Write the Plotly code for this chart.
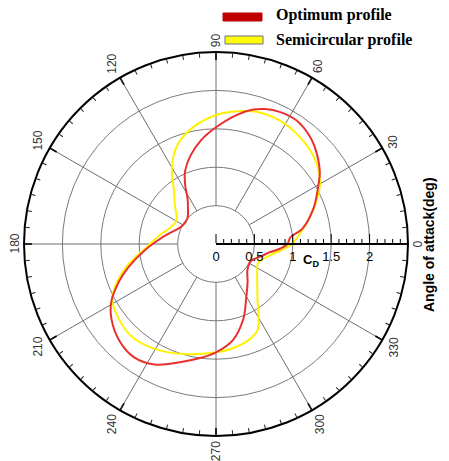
import numpy as np
import plotly.graph_objects as go

# Drag coefficient vs angle of attack (deg)
opt_theta = [0, 5, 10, 20, 30, 35, 45, 50, 57, 64, 70, 75, 81, 90, 98, 106, 113, 117.5,
             122, 129, 138, 152, 166, 174, 185, 195, 201, 209, 216, 225, 234, 243, 253,
             262, 270, 280, 290, 299, 310, 319, 331, 337, 344, 351, 356, 360]
opt_cd = [0.93, 0.97, 1.14, 1.35, 1.54, 1.65, 1.81, 1.87, 1.92, 1.91, 1.87, 1.81, 1.70,
          1.52, 1.37, 1.20, 1.03, 0.87, 0.70, 0.58, 0.50, 0.50, 0.61, 0.72, 0.93, 1.185,
          1.35, 1.56, 1.68, 1.78, 1.82, 1.76, 1.61, 1.50, 1.41, 1.27, 1.04, 0.81, 0.64,
          0.54, 0.50, 0.52, 0.60, 0.70, 0.84, 0.93]

semi_theta = [0, 7, 13, 23, 31, 41, 52, 63, 73, 81, 90, 101, 111, 120, 128, 137, 149,
              160, 170, 184, 193, 201, 208, 218, 228, 240, 254, 270, 278, 289, 296, 302,
              306, 311, 320, 330, 336, 342, 350, 356, 360]
semi_cd = [0.99, 1.10, 1.21, 1.42, 1.58, 1.70, 1.77, 1.81, 1.80, 1.75, 1.68, 1.55, 1.39,
           1.15, 0.89, 0.73, 0.60, 0.63, 0.73, 0.93, 1.17, 1.38, 1.53, 1.60, 1.63, 1.58,
           1.49, 1.41, 1.38, 1.32, 1.24, 1.04, 0.92, 0.82, 0.70, 0.62, 0.60, 0.64, 0.75,
           0.89, 0.99]

angle_labels = [0, 30, 60, 90, 120, 150, 180, 210, 240, 270, 300, 330]
cd_labels = [0, 0.5, 1, 1.5, 2]
R_MAX = 2.5
R_SPOKE_START = 0.5

# figure geometry (pixels)
W, H = 449, 461
ML, MR, MT, MB = 24, 41, 52, 25
PW, PH = W - ML - MR, H - MT - MB
CX, CY = ML + PW / 2, MT + PH / 2
R_PX = min(PW, PH) / 2
PX_PER_UNIT = R_PX / R_MAX


def to_paper(x, y):
    """Convert pixel position (from top-left of the figure) to paper coords."""
    return (x - ML) / PW, 1 - (y - MT) / PH


fig = go.Figure()

# spokes every 30 deg, starting at the inner ring
for a in angle_labels[1:]:
    fig.add_trace(go.Scatterpolar(r=[R_SPOKE_START, R_MAX], theta=[a, a], mode="lines",
                                  line=dict(color="#6e6e6e", width=1),
                                  hoverinfo="skip", showlegend=False))
# major ticks on the outer ring, darker where each spoke meets it
major_len = 8 / PX_PER_UNIT
for a in angle_labels:
    fig.add_trace(go.Scatterpolar(r=[R_MAX - major_len, R_MAX], theta=[a, a], mode="lines",
                                  line=dict(color="black", width=1.6),
                                  hoverinfo="skip", showlegend=False))

# minor ticks on the radial axis (every 0.1), pointing up
h = 5 / PX_PER_UNIT
for k in range(1, 25):
    r0 = k / 10
    if k % 5 == 0:
        continue
    fig.add_trace(go.Scatterpolar(r=[r0, np.hypot(r0, h)],
                                  theta=[0, np.degrees(np.arctan2(h, r0))],
                                  mode="lines", line=dict(color="black", width=1),
                                  hoverinfo="skip", showlegend=False))

fig.add_trace(go.Scatterpolar(r=semi_cd, theta=semi_theta, mode="lines",
                              line=dict(color="#fff200", width=2, shape="spline"),
                              name="Semicircular profile", showlegend=False))
fig.add_trace(go.Scatterpolar(r=opt_cd, theta=opt_theta, mode="lines",
                              line=dict(color="#e8312f", width=2, shape="spline"),
                              name="Optimum profile", showlegend=False))

fig.update_layout(
    width=W, height=H,
    margin=dict(l=ML, r=MR, t=MT, b=MB),
    paper_bgcolor="white", plot_bgcolor="white",
    showlegend=False,
    polar=dict(
        bgcolor="white",
        domain=dict(x=[0, 1], y=[0, 1]),
        radialaxis=dict(
            range=[0, R_MAX], tickvals=cd_labels, ticktext=[str(v) for v in cd_labels],
            angle=0, side="clockwise", ticks="inside", ticklen=9, tickwidth=1,
            tickcolor="black", showline=True, linecolor="black", linewidth=2,
            showgrid=True, gridcolor="#7a7a7a", gridwidth=1,
            tickfont=dict(family="Liberation Sans, Arial", size=13, color="black"),
        ),
        angularaxis=dict(
            direction="counterclockwise", rotation=0,
            tickmode="linear", tick0=0, dtick=5,
            ticks="inside", ticklen=4, tickcolor="#222222", tickwidth=1,
            showline=True, linecolor="black", linewidth=2,
            showgrid=False, showticklabels=False,
        ),
    ),
)

# angle labels, rotated to read along the vertical
for a in angle_labels:
    txt = str(a)
    long_half = len(txt) * 3.4
    short_half = 4.5
    t = np.radians(a)
    d = R_PX + 5 + abs(np.cos(t)) * short_half + abs(np.sin(t)) * long_half
    x, y = to_paper(CX + d * np.cos(t), CY - d * np.sin(t))
    fig.add_annotation(xref="paper", yref="paper", x=x, y=y, xanchor="center",
                       yanchor="middle", showarrow=False, textangle=-90, text=txt,
                       font=dict(family="Liberation Sans, Arial", size=12, color="#333333"))

# legend swatches and labels
x0, y0 = to_paper(223, 21)
x1, y1 = to_paper(262, 13)
fig.add_shape(type="rect", xref="paper", yref="paper", x0=x0, x1=x1, y0=y0, y1=y1,
              fillcolor="#c00000", line=dict(color="#c00000", width=1), layer="above")
x0, y0 = to_paper(225, 44)
x1, y1 = to_paper(263, 36)
fig.add_shape(type="rect", xref="paper", yref="paper", x0=x0, x1=x1, y0=y0, y1=y1,
              fillcolor="#ffff00", line=dict(color="#6a6a8a", width=1), layer="above")
for label, ypx in [("Optimum profile", 15), ("Semicircular profile", 40)]:
    x, y = to_paper(274, ypx)
    fig.add_annotation(xref="paper", yref="paper", x=x, y=y,
                       xanchor="left", yanchor="middle", showarrow=False,
                       text="<b>" + label + "</b>",
                       font=dict(family="Liberation Serif, Times New Roman", size=16,
                                 color="black"))

x, y = to_paper(301, 260)
fig.add_annotation(xref="paper", yref="paper", x=x, y=y,
                   xanchor="left", yanchor="middle", showarrow=False,
                   text="<b>C<sub>D</sub></b>",
                   font=dict(family="Liberation Sans, Arial", size=13, color="black"))
x, y = to_paper(429, 245)
fig.add_annotation(xref="paper", yref="paper", x=x, y=y,
                   xanchor="center", yanchor="middle", showarrow=False, textangle=-90,
                   text="<b>Angle of attack(deg)</b>",
                   font=dict(family="Liberation Sans, Arial", size=14, color="black"))

fig.write_html("out.html")
